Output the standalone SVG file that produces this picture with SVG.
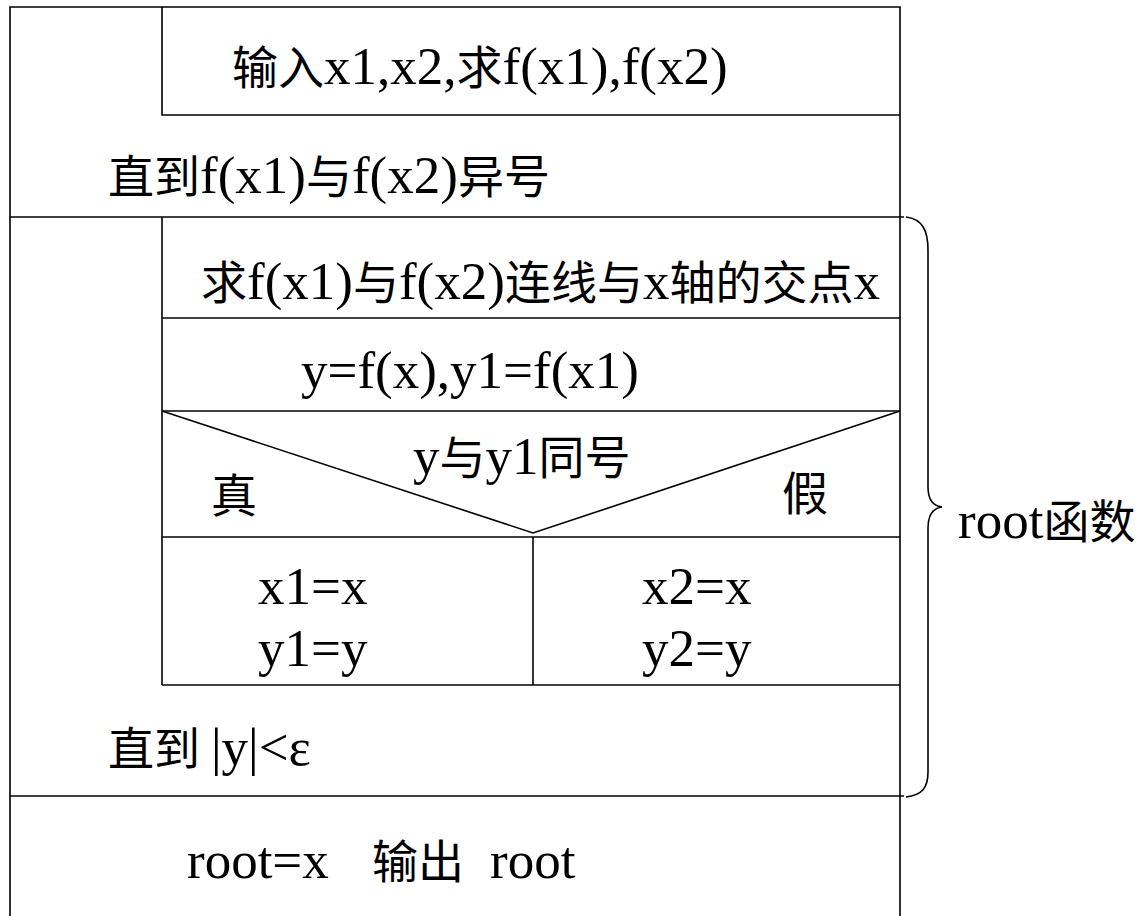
<svg xmlns="http://www.w3.org/2000/svg" width="1138" height="916" viewBox="0 0 1138 916">
<style>.ln{stroke:#000;stroke-width:1.6;fill:none}</style>
<rect width="1138" height="916" fill="#fff"/>
<g id="frame">
<path class="ln" d="M10 916 V7 H900 V916"/>
</g>
<g id="input">
<path class="ln" d="M162 7 V115 H900"/>
<text x="232" y="84" font-family="Liberation Serif" font-size="53"><tspan font-family="Noto Sans CJK SC" font-size="46">输入</tspan>x1,x2,<tspan font-family="Noto Sans CJK SC" font-size="46">求</tspan>f(x1),f(x2)</text>
</g>
<g id="until1">
<path class="ln" d="M10 217 H904"/>
<text x="108" y="193" font-family="Liberation Serif" font-size="53"><tspan font-family="Noto Sans CJK SC" font-size="46">直到</tspan>f(x1)<tspan font-family="Noto Sans CJK SC" font-size="46">与</tspan>f(x2)<tspan font-family="Noto Sans CJK SC" font-size="46">异号</tspan></text>
</g>
<g id="intersect">
<path class="ln" d="M162 217 V685"/>
<path class="ln" d="M162 318 H900"/>
<text x="201" y="299" font-family="Liberation Serif" font-size="53"><tspan font-family="Noto Sans CJK SC" font-size="46">求</tspan>f(x1)<tspan font-family="Noto Sans CJK SC" font-size="46">与</tspan>f(x2)<tspan font-family="Noto Sans CJK SC" font-size="46">连线与</tspan>x<tspan font-family="Noto Sans CJK SC" font-size="46">轴的交点</tspan>x</text>
</g>
<g id="compute">
<path class="ln" d="M162 411 H900"/>
<text x="301" y="388" font-family="Liberation Serif" font-size="53">y=f(x),y1=f(x1)</text>
</g>
<g id="decision">
<path class="ln" d="M162 411 L533 533 L900 411"/>
<path class="ln" d="M162 537 H900"/>
<text x="413" y="474" font-family="Liberation Serif" font-size="53">y<tspan font-family="Noto Sans CJK SC" font-size="46">与</tspan>y1<tspan font-family="Noto Sans CJK SC" font-size="46">同号</tspan></text>
<text x="211" y="512" font-family="Noto Sans CJK SC" font-size="46">真</text>
<text x="782" y="510" font-family="Noto Sans CJK SC" font-size="46">假</text>
</g>
<g id="true-branch">
<path class="ln" d="M533 537 V685"/>
<text x="258" y="604" font-family="Liberation Serif" font-size="53">x1=x</text>
<text x="258" y="666" font-family="Liberation Serif" font-size="53">y1=y</text>
</g>
<g id="false-branch">
<path class="ln" d="M162 685 H900"/>
<text x="642" y="604" font-family="Liberation Serif" font-size="53">x2=x</text>
<text x="642" y="666" font-family="Liberation Serif" font-size="53">y2=y</text>
</g>
<g id="until2">
<path class="ln" d="M10 796 H904"/>
<text x="108" y="765" font-family="Liberation Serif" font-size="53"><tspan font-family="Noto Sans CJK SC" font-size="46">直到</tspan><tspan x="211">|y|&lt;ε</tspan></text>
</g>
<g id="output">
<text x="187" y="878" font-family="Liberation Serif" font-size="53">root=x<tspan x="372" font-family="Noto Sans CJK SC" font-size="46">输出</tspan><tspan x="490">root</tspan></text>
</g>
<g id="connectors">
<path class="ln" d="M906 217 C922 219 928 230 928 250 L928 487 C928 500 934 506 942 507 C934 508 928 514 928 528 L928 772 C928 788 922 795 906 797"/>
</g>
<g id="label">
<text x="958" y="538" font-family="Liberation Serif" font-size="53">root<tspan font-family="Noto Sans CJK SC" font-size="46">函数</tspan></text>
</g>
</svg>
